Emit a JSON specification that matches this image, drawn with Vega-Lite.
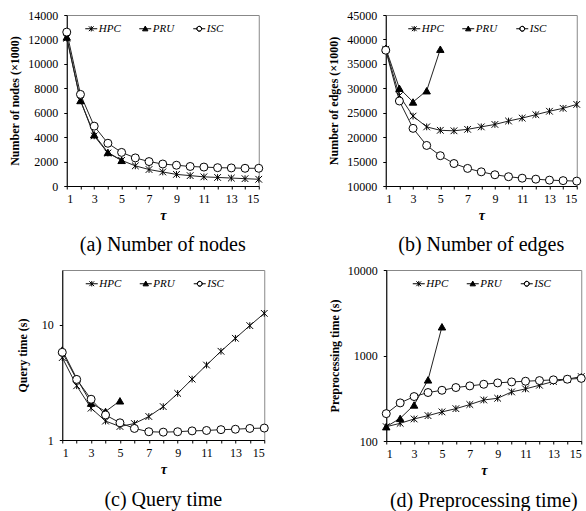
{
  "$schema": "https://vega.github.io/schema/vega-lite/v6.json",
  "background": "white",
  "padding": {"left": 8, "top": 8, "right": 0, "bottom": 0},
  "spacing": 7,
  "center": true,
  "resolve": {"scale": {"shape": "independent"}, "legend": {"shape": "independent"}},
  "datasets": {
    "a": [
      {"t":1,"s":"HPC","v":12100},{"t":2,"s":"HPC","v":7000},{"t":3,"s":"HPC","v":4100},{"t":4,"s":"HPC","v":2700},{"t":5,"s":"HPC","v":2100},{"t":6,"s":"HPC","v":1650},{"t":7,"s":"HPC","v":1350},{"t":8,"s":"HPC","v":1150},{"t":9,"s":"HPC","v":950},{"t":10,"s":"HPC","v":850},{"t":11,"s":"HPC","v":750},{"t":12,"s":"HPC","v":700},{"t":13,"s":"HPC","v":650},{"t":14,"s":"HPC","v":600},{"t":15,"s":"HPC","v":550},
      {"t":1,"s":"PRU","v":12200},{"t":2,"s":"PRU","v":7000},{"t":3,"s":"PRU","v":4200},{"t":4,"s":"PRU","v":2750},{"t":5,"s":"PRU","v":2100},
      {"t":1,"s":"ISC","v":12600},{"t":2,"s":"ISC","v":7500},{"t":3,"s":"ISC","v":4900},{"t":4,"s":"ISC","v":3500},{"t":5,"s":"ISC","v":2750},{"t":6,"s":"ISC","v":2300},{"t":7,"s":"ISC","v":2000},{"t":8,"s":"ISC","v":1800},{"t":9,"s":"ISC","v":1700},{"t":10,"s":"ISC","v":1600},{"t":11,"s":"ISC","v":1550},{"t":12,"s":"ISC","v":1500},{"t":13,"s":"ISC","v":1480},{"t":14,"s":"ISC","v":1450},{"t":15,"s":"ISC","v":1450}
    ],
    "b": [
      {"t":1,"s":"HPC","v":38000},{"t":2,"s":"HPC","v":28500},{"t":3,"s":"HPC","v":24300},{"t":4,"s":"HPC","v":22100},{"t":5,"s":"HPC","v":21400},{"t":6,"s":"HPC","v":21300},{"t":7,"s":"HPC","v":21600},{"t":8,"s":"HPC","v":22100},{"t":9,"s":"HPC","v":22600},{"t":10,"s":"HPC","v":23300},{"t":11,"s":"HPC","v":23900},{"t":12,"s":"HPC","v":24600},{"t":13,"s":"HPC","v":25300},{"t":14,"s":"HPC","v":25900},{"t":15,"s":"HPC","v":26700},
      {"t":1,"s":"PRU","v":38200},{"t":2,"s":"PRU","v":30000},{"t":3,"s":"PRU","v":27200},{"t":4,"s":"PRU","v":29500},{"t":5,"s":"PRU","v":38000},
      {"t":1,"s":"ISC","v":37800},{"t":2,"s":"ISC","v":27400},{"t":3,"s":"ISC","v":21800},{"t":4,"s":"ISC","v":18300},{"t":5,"s":"ISC","v":16200},{"t":6,"s":"ISC","v":14600},{"t":7,"s":"ISC","v":13600},{"t":8,"s":"ISC","v":12900},{"t":9,"s":"ISC","v":12300},{"t":10,"s":"ISC","v":11900},{"t":11,"s":"ISC","v":11600},{"t":12,"s":"ISC","v":11400},{"t":13,"s":"ISC","v":11200},{"t":14,"s":"ISC","v":11100},{"t":15,"s":"ISC","v":11000}
    ],
    "c": [
      {"t":1,"s":"HPC","v":5.2},{"t":2,"s":"HPC","v":2.96},{"t":3,"s":"HPC","v":1.89},{"t":4,"s":"HPC","v":1.46},{"t":5,"s":"HPC","v":1.31},{"t":6,"s":"HPC","v":1.39},{"t":7,"s":"HPC","v":1.6},{"t":8,"s":"HPC","v":1.95},{"t":9,"s":"HPC","v":2.54},{"t":10,"s":"HPC","v":3.38},{"t":11,"s":"HPC","v":4.48},{"t":12,"s":"HPC","v":5.9},{"t":13,"s":"HPC","v":7.65},{"t":14,"s":"HPC","v":9.86},{"t":15,"s":"HPC","v":12.6},
      {"t":1,"s":"PRU","v":6.05},{"t":2,"s":"PRU","v":3.43},{"t":3,"s":"PRU","v":2.09},{"t":4,"s":"PRU","v":1.77},{"t":5,"s":"PRU","v":2.19},
      {"t":1,"s":"ISC","v":5.78},{"t":2,"s":"ISC","v":3.36},{"t":3,"s":"ISC","v":2.26},{"t":4,"s":"ISC","v":1.65},{"t":5,"s":"ISC","v":1.41},{"t":6,"s":"ISC","v":1.26},{"t":7,"s":"ISC","v":1.18},{"t":8,"s":"ISC","v":1.17},{"t":9,"s":"ISC","v":1.18},{"t":10,"s":"ISC","v":1.2},{"t":11,"s":"ISC","v":1.21},{"t":12,"s":"ISC","v":1.23},{"t":13,"s":"ISC","v":1.24},{"t":14,"s":"ISC","v":1.26},{"t":15,"s":"ISC","v":1.27}
    ],
    "d": [
      {"t":1,"s":"HPC","v":147},{"t":2,"s":"HPC","v":161},{"t":3,"s":"HPC","v":181},{"t":4,"s":"HPC","v":198},{"t":5,"s":"HPC","v":219},{"t":6,"s":"HPC","v":239},{"t":7,"s":"HPC","v":267},{"t":8,"s":"HPC","v":302},{"t":9,"s":"HPC","v":316},{"t":10,"s":"HPC","v":375},{"t":11,"s":"HPC","v":407},{"t":12,"s":"HPC","v":449},{"t":13,"s":"HPC","v":496},{"t":14,"s":"HPC","v":528},{"t":15,"s":"HPC","v":567},
      {"t":1,"s":"PRU","v":147},{"t":2,"s":"PRU","v":184},{"t":3,"s":"PRU","v":264},{"t":4,"s":"PRU","v":519},{"t":5,"s":"PRU","v":2168},
      {"t":1,"s":"ISC","v":209},{"t":2,"s":"ISC","v":279},{"t":3,"s":"ISC","v":331},{"t":4,"s":"ISC","v":369},{"t":5,"s":"ISC","v":392},{"t":6,"s":"ISC","v":422},{"t":7,"s":"ISC","v":441},{"t":8,"s":"ISC","v":461},{"t":9,"s":"ISC","v":478},{"t":10,"s":"ISC","v":491},{"t":11,"s":"ISC","v":500},{"t":12,"s":"ISC","v":509},{"t":13,"s":"ISC","v":519},{"t":14,"s":"ISC","v":528},{"t":15,"s":"ISC","v":540}
    ]
  },
  "config": {
    "font": "Liberation Serif",
    "view": {"stroke": "#888", "strokeWidth": 1},
    "axis": {"labelFont": "Liberation Serif", "labelFontSize": 12, "labelColor": "black", "domainColor": "black", "tickColor": "black", "tickSize": 3, "grid": false, "titleFont": "Liberation Serif", "titleFontWeight": "bold", "titleFontSize": 12, "titleColor": "black"},
    "axisY": {"titlePadding": 6, "labelPadding": 6},
    "legend": {"orient": "none", "direction": "horizontal", "title": null, "labelFont": "Liberation Serif", "labelFontStyle": "italic", "labelFontSize": 11, "labelColor": "black", "symbolSize": 144, "labelOffset": 1, "columnPadding": 16, "symbolStrokeWidth": 1, "symbolOpacity": 1},
    "title": {"font": "Liberation Serif", "fontSize": 20, "fontWeight": "normal", "color": "black", "orient": "bottom", "anchor": "middle", "frame": "group", "offset": 13}
  },
  "vconcat": [
    {
      "spacing": 61,
      "resolve": {"scale": {"shape": "independent"}, "legend": {"shape": "independent"}},
      "hconcat": [
        {
          "width": 192, "height": 171,
          "title": {"text": "(a) Number of nodes"},
          "data": {"name": "a"},
          "encoding": {
            "x": {"field": "t", "type": "quantitative", "scale": {"domain": [1, 15], "nice": false}, "axis": {"title": "τ", "titleFontStyle": "italic", "titleFontSize": 14, "labelPadding": 4, "titlePadding": 4, "values": [1,2,3,4,5,6,7,8,9,10,11,12,13,14,15], "labelExpr": "datum.value % 2 == 1 ? datum.label : ''"}},
            "y": {"field": "v", "type": "quantitative", "scale": {"domain": [0, 14000], "nice": false}, "axis": {"title": "Number of nodes (×1000)", "values": [0,2000,4000,6000,8000,10000,12000,14000], "format": "d"}}
          },
          "layer": [
            {"mark": {"type": "line", "stroke": "#222", "strokeWidth": 1}, "encoding": {"detail": {"field": "s"}}},
            {"transform": [{"filter": "datum.s === 'HPC'"}], "mark": {"type": "point", "shape": "M-1,-1L1,1M-1,1L1,-1M0,-1L0,1", "size": 45, "stroke": "black", "strokeWidth": 1, "opacity": 1}},
            {"transform": [{"filter": "datum.s === 'PRU'"}], "mark": {"type": "point", "shape": "triangle-up", "size": 55, "filled": true, "fill": "black", "stroke": "black", "strokeWidth": 1, "opacity": 1}},
            {"transform": [{"filter": "datum.s === 'ISC'"}], "mark": {"type": "point", "shape": "circle", "size": 64, "filled": true, "fill": "white", "stroke": "black", "strokeWidth": 1, "opacity": 1}},
            {"mark": {"type": "point", "size": 0, "fill": "black", "stroke": "black", "strokeWidth": 1},
             "encoding": {"shape": {"field": "s", "type": "nominal", "scale": {"domain": ["HPC","PRU","ISC"], "range": ["M-1,0H1M-0.4,-0.4L0.4,0.4M-0.4,0.4L0.4,-0.4M0,-0.45V0.45", "M-1,0H1M0,-0.45L0.45,0.35H-0.45Z", "M-1,0H-0.4M0.4,0H1M-0.4,0A0.4,0.4,0,1,1,0.4,0A0.4,0.4,0,1,1,-0.4,0ZM-0.4,0A0.4,0.4,0,1,0,0.4,0A0.4,0.4,0,1,0,-0.4,0Z"]}, "legend": {"legendX": 18, "legendY": 7, "symbolStrokeWidth": 1}}}}
          ]
        },
        {
          "width": 191, "height": 171,
          "title": {"text": "(b) Number of edges"},
          "data": {"name": "b"},
          "encoding": {
            "x": {"field": "t", "type": "quantitative", "scale": {"domain": [1, 15], "nice": false}, "axis": {"title": "τ", "titleFontStyle": "italic", "titleFontSize": 14, "labelPadding": 4, "titlePadding": 4, "values": [1,2,3,4,5,6,7,8,9,10,11,12,13,14,15], "labelExpr": "datum.value % 2 == 1 ? datum.label : ''"}},
            "y": {"field": "v", "type": "quantitative", "scale": {"domain": [10000, 45000], "nice": false, "zero": false}, "axis": {"title": "Number of edges (×1000)", "values": [10000,15000,20000,25000,30000,35000,40000,45000], "format": "d"}}
          },
          "layer": [
            {"mark": {"type": "line", "stroke": "#222", "strokeWidth": 1}, "encoding": {"detail": {"field": "s"}}},
            {"transform": [{"filter": "datum.s === 'HPC'"}], "mark": {"type": "point", "shape": "M-1,-1L1,1M-1,1L1,-1M0,-1L0,1", "size": 45, "stroke": "black", "strokeWidth": 1, "opacity": 1}},
            {"transform": [{"filter": "datum.s === 'PRU'"}], "mark": {"type": "point", "shape": "triangle-up", "size": 55, "filled": true, "fill": "black", "stroke": "black", "strokeWidth": 1, "opacity": 1}},
            {"transform": [{"filter": "datum.s === 'ISC'"}], "mark": {"type": "point", "shape": "circle", "size": 64, "filled": true, "fill": "white", "stroke": "black", "strokeWidth": 1, "opacity": 1}},
            {"mark": {"type": "point", "size": 0, "fill": "black", "stroke": "black", "strokeWidth": 1},
             "encoding": {"shape": {"field": "s", "type": "nominal", "scale": {"domain": ["HPC","PRU","ISC"], "range": ["M-1,0H1M-0.4,-0.4L0.4,0.4M-0.4,0.4L0.4,-0.4M0,-0.45V0.45", "M-1,0H1M0,-0.45L0.45,0.35H-0.45Z", "M-1,0H-0.4M0.4,0H1M-0.4,0A0.4,0.4,0,1,1,0.4,0A0.4,0.4,0,1,1,-0.4,0ZM-0.4,0A0.4,0.4,0,1,0,0.4,0A0.4,0.4,0,1,0,-0.4,0Z"]}, "legend": {"legendX": 22, "legendY": 7, "symbolStrokeWidth": 1}}}}
          ]
        }
      ]
    },
    {
      "spacing": 56,
      "resolve": {"scale": {"shape": "independent"}, "legend": {"shape": "independent"}},
      "hconcat": [
        {
          "width": 202, "height": 170,
          "title": {"text": "(c) Query time", "offset": 14},
          "data": {"name": "c"},
          "encoding": {
            "x": {"field": "t", "type": "quantitative", "scale": {"domain": [1, 15], "nice": false}, "axis": {"title": "τ", "titleFontStyle": "italic", "titleFontSize": 14, "labelPadding": 4, "titlePadding": 4, "values": [1,2,3,4,5,6,7,8,9,10,11,12,13,14,15], "labelExpr": "datum.value % 2 == 1 ? datum.label : ''"}},
            "y": {"field": "v", "type": "quantitative", "scale": {"type": "log", "domain": [1, 30], "nice": false}, "axis": {"title": "Query time (s)", "values": [1, 10], "titlePadding": 12, "format": "d"}}
          },
          "layer": [
            {"mark": {"type": "line", "stroke": "#222", "strokeWidth": 1}, "encoding": {"detail": {"field": "s"}}},
            {"transform": [{"filter": "datum.s === 'HPC'"}], "mark": {"type": "point", "shape": "M-1,-1L1,1M-1,1L1,-1M0,-1L0,1", "size": 45, "stroke": "black", "strokeWidth": 1, "opacity": 1}},
            {"transform": [{"filter": "datum.s === 'PRU'"}], "mark": {"type": "point", "shape": "triangle-up", "size": 55, "filled": true, "fill": "black", "stroke": "black", "strokeWidth": 1, "opacity": 1}},
            {"transform": [{"filter": "datum.s === 'ISC'"}], "mark": {"type": "point", "shape": "circle", "size": 64, "filled": true, "fill": "white", "stroke": "black", "strokeWidth": 1, "opacity": 1}},
            {"mark": {"type": "point", "size": 0, "fill": "black", "stroke": "black", "strokeWidth": 1},
             "encoding": {"shape": {"field": "s", "type": "nominal", "scale": {"domain": ["HPC","PRU","ISC"], "range": ["M-1,0H1M-0.4,-0.4L0.4,0.4M-0.4,0.4L0.4,-0.4M0,-0.45V0.45", "M-1,0H1M0,-0.45L0.45,0.35H-0.45Z", "M-1,0H-0.4M0.4,0H1M-0.4,0A0.4,0.4,0,1,1,0.4,0A0.4,0.4,0,1,1,-0.4,0ZM-0.4,0A0.4,0.4,0,1,0,0.4,0A0.4,0.4,0,1,0,-0.4,0Z"]}, "legend": {"legendX": 23, "legendY": 7, "symbolStrokeWidth": 1}}}}
          ]
        },
        {
          "width": 195, "height": 171,
          "title": {"text": "(d) Preprocessing time)", "offset": 14},
          "data": {"name": "d"},
          "encoding": {
            "x": {"field": "t", "type": "quantitative", "scale": {"domain": [1, 15], "nice": false}, "axis": {"title": "τ", "titleFontStyle": "italic", "titleFontSize": 14, "labelPadding": 4, "titlePadding": 4, "values": [1,2,3,4,5,6,7,8,9,10,11,12,13,14,15], "labelExpr": "datum.value % 2 == 1 ? datum.label : ''"}},
            "y": {"field": "v", "type": "quantitative", "scale": {"type": "log", "domain": [100, 10000], "nice": false}, "axis": {"title": "Preprocessing time (s)", "values": [100, 1000, 10000], "format": "d"}}
          },
          "layer": [
            {"mark": {"type": "line", "stroke": "#222", "strokeWidth": 1}, "encoding": {"detail": {"field": "s"}}},
            {"transform": [{"filter": "datum.s === 'HPC'"}], "mark": {"type": "point", "shape": "M-1,-1L1,1M-1,1L1,-1M0,-1L0,1", "size": 45, "stroke": "black", "strokeWidth": 1, "opacity": 1}},
            {"transform": [{"filter": "datum.s === 'PRU'"}], "mark": {"type": "point", "shape": "triangle-up", "size": 55, "filled": true, "fill": "black", "stroke": "black", "strokeWidth": 1, "opacity": 1}},
            {"transform": [{"filter": "datum.s === 'ISC'"}], "mark": {"type": "point", "shape": "circle", "size": 64, "filled": true, "fill": "white", "stroke": "black", "strokeWidth": 1, "opacity": 1}},
            {"mark": {"type": "point", "size": 0, "fill": "black", "stroke": "black", "strokeWidth": 1},
             "encoding": {"shape": {"field": "s", "type": "nominal", "scale": {"domain": ["HPC","PRU","ISC"], "range": ["M-1,0H1M-0.4,-0.4L0.4,0.4M-0.4,0.4L0.4,-0.4M0,-0.45V0.45", "M-1,0H1M0,-0.45L0.45,0.35H-0.45Z", "M-1,0H-0.4M0.4,0H1M-0.4,0A0.4,0.4,0,1,1,0.4,0A0.4,0.4,0,1,1,-0.4,0ZM-0.4,0A0.4,0.4,0,1,0,0.4,0A0.4,0.4,0,1,0,-0.4,0Z"]}, "legend": {"legendX": 26, "legendY": 7, "symbolStrokeWidth": 1}}}}
          ]
        }
      ]
    }
  ]
}
